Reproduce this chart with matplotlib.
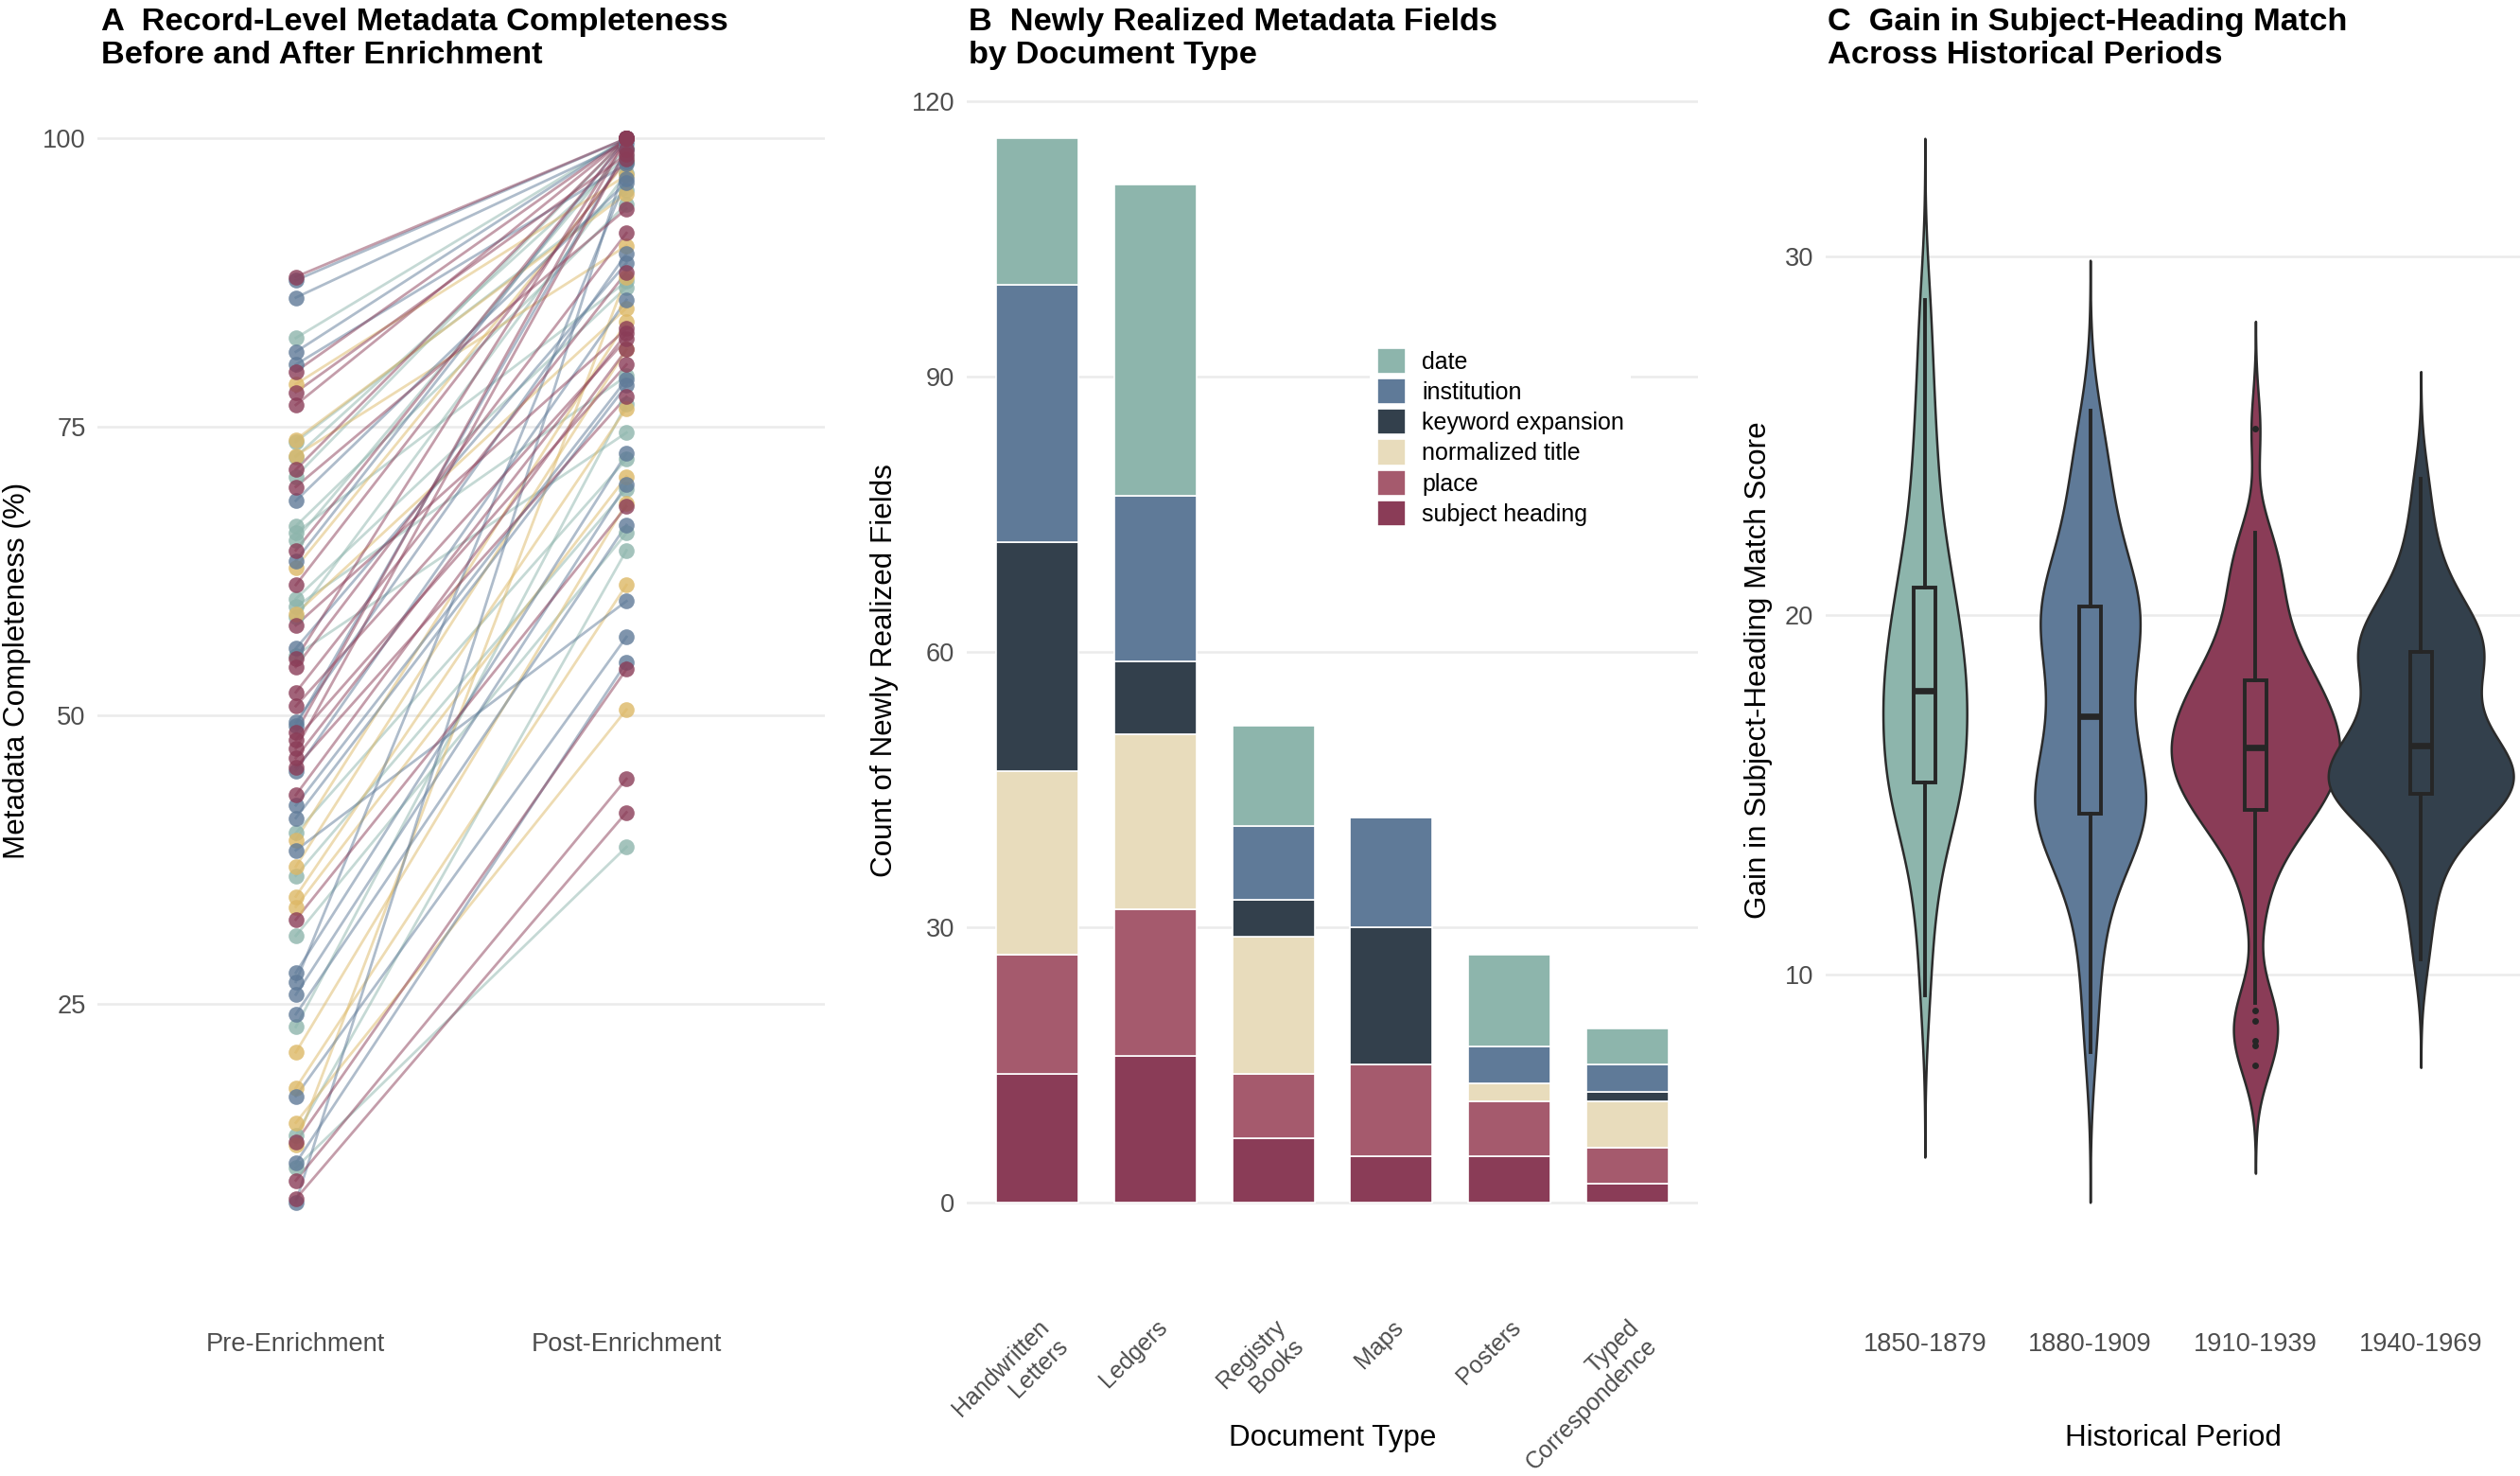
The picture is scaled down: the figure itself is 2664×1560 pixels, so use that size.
import numpy as np
import matplotlib.pyplot as plt

plt.rcParams['font.family'] = ['Liberation Sans', 'DejaVu Sans']

# ---------------- data ----------------
# A: record-level completeness (%), one list pair per colour group
pre_crimson = [88.0, 79.8, 78.0, 76.9, 71.3, 69.8, 64.3, 61.3, 57.8, 54.9, 54.2, 52.0,
               50.8, 48.5, 47.9, 47.1, 46.3, 45.5, 43.1, 32.3, 13.0, 9.7, 8.1]
post_crimson = [100, 100, 98.6, 100, 100, 93.9, 100, 98.2, 83.5, 100, 91.8, 88.4,
                82.6, 100, 80.4, 99.0, 83.1, 77.6, 81.7, 68.1, 54.0, 44.5, 41.6]
pre_blue = [87.7, 86.2, 81.5, 80.4, 68.6, 63.4, 55.8, 49.4, 49.1, 45.2, 42.2, 41.1,
            38.3, 27.7, 26.9, 25.8, 24.1, 17.0, 11.2, 7.8]
post_blue = [100, 99.6, 100, 97.8, 96.2, 100, 89.2, 90.0, 99.0, 86.0, 79.1, 78.6,
             59.9, 72.7, 96.5, 70.0, 66.5, 56.8, 54.6, 98.0]
pre_teal = [82.7, 73.7, 72.4, 70.7, 66.4, 65.8, 65.2, 60.1, 59.4, 58.5, 55.2, 39.8,
            36.1, 30.9, 23.0, 13.6, 10.8]
post_teal = [100, 95.5, 98.5, 100, 94.3, 87.6, 99.2, 87.1, 79.4, 97.0, 74.5, 72.2,
             69.6, 65.8, 77.0, 64.3, 38.6]
pre_gold = [78.7, 73.9, 72.5, 62.8, 58.8, 39.2, 36.9, 34.3, 33.4, 20.8, 17.7, 14.7, 12.8]
post_gold = [96.8, 95.2, 90.7, 98.0, 85.3, 84.1, 81.7, 76.6, 70.7, 68.4, 61.3, 50.5, 88.0]

# B: newly realized fields by document type
doc_types = ['Handwritten\nLetters', 'Ledgers', 'Registry\nBooks', 'Maps', 'Posters',
             'Typed\nCorrespondence']
subject_heading = [14, 16, 7, 5, 5, 2]
place = [13, 16, 7, 10, 6, 4]
normalized_title = [20, 19, 15, 0, 2, 5]
keyword_expansion = [25, 8, 4, 15, 0, 1]
institution = [28, 18, 8, 12, 4, 3]
date = [16, 34, 11, 0, 10, 4]

# C: gain in subject-heading match score per period
periods = ['1850-1879', '1880-1909', '1910-1939', '1940-1969']
gain_1850 = [9.4, 11.2, 12.3, 13.1, 13.8, 14.3, 14.7, 15.0, 15.1, 15.2, 15.4, 15.7, 16.0,
             16.3, 16.6, 16.9, 17.2, 17.5, 17.7, 17.8, 18.0, 18.2, 18.5, 18.8, 19.1, 19.4,
             19.7, 20.0, 20.3, 20.7, 21.0, 21.4, 21.9, 22.5, 23.2, 24.0, 24.9, 25.9, 27.2, 28.8]
gain_1880 = [7.84, 9.3, 10.4, 11.3, 12.0, 12.6, 13.0, 13.35, 13.6, 13.8, 14.0, 14.15, 14.28,
             14.4, 14.5, 14.62, 14.75, 14.88, 15.0, 15.15, 15.3, 15.5, 15.75, 16.05, 16.4,
             16.75, 17.0, 17.12, 17.28, 17.5, 17.85, 18.25, 18.6, 18.9, 19.15, 19.35, 19.55,
             19.7, 19.85, 19.98, 20.1, 20.22, 20.38, 20.55, 20.75, 21.0, 21.3, 21.65, 22.0,
             22.4, 22.8, 23.3, 23.8, 24.3, 24.9, 25.7]
gain_1910 = [7.45, 8.0, 8.15, 8.7, 9.0, 9.2, 11.6, 12.6, 13.2, 13.6, 13.9, 14.15, 14.35,
             14.5, 14.6, 14.75, 14.9, 15.05, 15.2, 15.35, 15.5, 15.62, 15.74, 15.86, 15.98,
             16.1, 16.2, 16.28, 16.38, 16.5, 16.62, 16.75, 16.88, 17.0, 17.15, 17.3, 17.45,
             17.6, 17.75, 17.9, 18.05, 18.15, 18.3, 18.5, 18.75, 19.0, 19.3, 19.6, 19.95,
             20.3, 20.7, 21.1, 21.5, 21.9, 22.3, 25.2]
gain_1940 = [10.4, 11.5, 12.3, 12.9, 13.4, 13.8, 14.1, 14.3, 14.5, 14.65, 14.75, 14.85,
             14.92, 14.98, 15.06, 15.15, 15.25, 15.35, 15.45, 15.55, 15.63, 15.7, 15.78,
             15.86, 15.95, 16.05, 16.2, 16.32, 16.44, 16.6, 16.8, 17.0, 17.25, 17.5, 17.75,
             18.0, 18.2, 18.4, 18.6, 18.75, 18.9, 18.95, 19.05, 19.2, 19.35, 19.5, 19.65,
             19.8, 20.0, 20.25, 20.5, 20.85, 21.3, 21.9, 22.7, 23.8]

# ---------------- style ----------------
TEAL, BLUE, NAVY = '#8DB5AC', '#5F7A98', '#33404C'
SAND, ROSE, WINE = '#E8DCBC', '#A55A6D', '#8A3C57'
GOLD = '#DDB866'
GRID = '#EBEBEB'
TICK = '#4D4D4D'

fig = plt.figure(figsize=(13.32, 7.8), dpi=200)
W, H = 2664, 1560
bottom = (H - 1327) / H
height = (1327 - 90) / H
axA = fig.add_axes([103 / W, bottom, 769 / W, height])
axB = fig.add_axes([1022 / W, bottom, 773 / W, height])
axC = fig.add_axes([1930 / W, bottom, 734 / W, height])

for ax in (axA, axB, axC):
    for s in ax.spines.values():
        s.set_visible(False)
    ax.grid(axis='y', color=GRID, lw=0.9)
    ax.set_axisbelow(True)
    ax.tick_params(length=0, labelsize=9.8, labelcolor=TICK)
    ax.tick_params(axis='x', pad=29)
    ax.tick_params(axis='y', pad=4.5)

# ---------------- A: slope chart ----------------
groups = [(pre_teal, post_teal, TEAL), (pre_gold, post_gold, GOLD),
          (pre_blue, post_blue, BLUE), (pre_crimson, post_crimson, WINE)]
for pre, post, col in groups:
    for a, b in zip(pre, post):
        axA.plot([1, 2], [a, b], color=col, lw=1.0, alpha=0.5, zorder=2)
for pre, post, col in groups:
    axA.plot([1] * len(pre), pre, 'o', ms=6, color=col, alpha=0.8, mec='none', zorder=3)
    axA.plot([2] * len(post), post, 'o', ms=6, color=col, alpha=0.8, mec='none', zorder=3)
allv = pre_teal + post_teal + pre_gold + post_gold + pre_blue + post_blue + pre_crimson + post_crimson
lo, hi = min(allv), max(allv)
axA.set_ylim(lo - 0.05 * (hi - lo), hi + 0.05 * (hi - lo))
axA.set_xlim(0.4, 2.6)
axA.set_xticks([1, 2], ['Pre-Enrichment', 'Post-Enrichment'])
axA.set_yticks([25, 50, 75, 100])
axA.set_ylabel('Metadata Completeness (%)', fontsize=11.3)
axA.yaxis.set_label_coords(-0.091, 0.5)

# ---------------- B: stacked bars ----------------
x = np.arange(1, len(doc_types) + 1)
layers = [('subject heading', subject_heading, WINE), ('place', place, ROSE),
          ('normalized title', normalized_title, SAND),
          ('keyword expansion', keyword_expansion, NAVY),
          ('institution', institution, BLUE), ('date', date, TEAL)]
base = np.zeros(len(doc_types))
handles = {}
for name, vals, col in layers:
    h = axB.bar(x, vals, 0.7, bottom=base, color=col, edgecolor='white', lw=0.6, label=name)
    handles[name] = h
    base += np.array(vals)
top = base.max()
axB.set_ylim(-0.05 * top, top * 1.05)
axB.set_xlim(0.4, len(doc_types) + 0.6)
axB.set_yticks([0, 30, 60, 90, 120])
axB.set_xticks(x)
axB.set_xticklabels(doc_types, rotation=45, ha='right', va='top', rotation_mode='anchor',
                    multialignment='right', fontsize=9.0)
axB.tick_params(axis='x', pad=23)
axB.set_ylabel('Count of Newly Realized Fields', fontsize=11.3)
axB.yaxis.set_label_coords(-0.093, 0.5)
axB.set_xlabel('Document Type', fontsize=11.3)
axB.xaxis.set_label_coords(0.5, -0.156)
axB.xaxis.label.set_va('center')
order = ['date', 'institution', 'keyword expansion', 'normalized title', 'place', 'subject heading']
leg = axB.legend([handles[n] for n in order], order, loc='upper left',
                 bbox_to_anchor=(1448 / W, 1 - 360 / H), bbox_transform=fig.transFigure,
                 fontsize=9, frameon=True, fancybox=False, edgecolor='none', facecolor='white',
                 framealpha=1, handlelength=1.2, handleheight=1.3, labelspacing=0.2,
                 handletextpad=0.7, borderpad=0.3, borderaxespad=0)

# ---------------- C: violins (count-scaled) + boxes ----------------
gains = [gain_1850, gain_1880, gain_1910, gain_1940]
vcols = [TEAL, BLUE, WINE, NAVY]
bws = [1.5, 1.4, 1.0, 1.0]
curves = []
for g, bw in zip(gains, bws):
    g = np.asarray(g)
    yy = np.linspace(g.min() - 3 * bw, g.max() + 3 * bw, 400)
    dens = np.exp(-0.5 * ((yy[:, None] - g[None, :]) / bw) ** 2).sum(1) / (bw * np.sqrt(2 * np.pi))
    curves.append((yy, dens))
dmax = max(d.max() for _, d in curves)
for i, ((yy, dens), col) in enumerate(zip(curves, vcols)):
    half = dens / dmax * 0.56
    axC.fill_betweenx(yy, i + 1 - half, i + 1 + half, facecolor=col, edgecolor='#2B2B2B',
                      lw=0.9, zorder=2)
bp = axC.boxplot(gains, positions=range(1, 5), widths=0.13, patch_artist=True,
                 showcaps=False, zorder=3,
                 boxprops=dict(edgecolor='#262626', lw=1.4),
                 medianprops=dict(color='#262626', lw=2.4),
                 whiskerprops=dict(color='#262626', lw=1.4),
                 flierprops=dict(marker='o', ms=2.5, mfc='#262626', mec='none'))
for patch, col in zip(bp['boxes'], vcols):
    patch.set_facecolor(col)
ylo = min(c[0][0] for c in curves)
yhi = max(c[0][-1] for c in curves)
axC.set_ylim(ylo - 0.05 * (yhi - ylo), yhi + 0.05 * (yhi - ylo))
axC.set_xlim(0.4, 4.6)
axC.set_xticks(range(1, 5), periods)
axC.set_yticks([10, 20, 30])
axC.set_ylabel('Gain in Subject-Heading Match Score', fontsize=11.3)
axC.yaxis.set_label_coords(-0.076, 0.5)
axC.set_xlabel('Historical Period', fontsize=11.3)
axC.xaxis.set_label_coords(0.5, -0.156)
axC.xaxis.label.set_va('center')

# ---------------- titles ----------------
titles = [(107, 'A  Record-Level Metadata Completeness\nBefore and After Enrichment'),
          (1024, 'B  Newly Realized Metadata Fields\nby Document Type'),
          (1932, 'C  Gain in Subject-Heading Match\nAcross Historical Periods')]
for xpx, t in titles:
    fig.text(xpx / W, 1 - 8 / H, t, ha='left', va='top', fontsize=12.4,
             fontweight='bold', linespacing=1.15)

fig.savefig('out.png', dpi=200)
